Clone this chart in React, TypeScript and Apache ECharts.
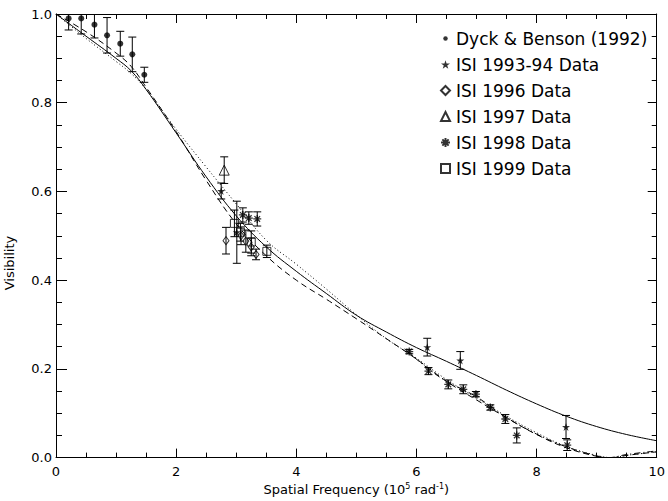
import React, { useEffect, useRef } from 'react';
import * as echarts from 'echarts';

// [spatial frequency, visibility, error]
const dyckBenson: [number, number, number][] = [
  [0.21, 0.99, 0.026], [0.42, 0.99, 0.035], [0.64, 0.976, 0.03], [0.85, 0.952, 0.04],
  [1.07, 0.933, 0.028], [1.27, 0.909, 0.039], [1.47, 0.863, 0.017],
];
const isi9394: [number, number, number][] = [
  [2.75, 0.601, 0.018], [3.01, 0.508, 0.07], [6.18, 0.249, 0.02], [6.73, 0.219, 0.02], [8.49, 0.069, 0.026],
];
const isi96: [number, number, number][] = [
  [2.83, 0.489, 0.03], [3.08, 0.5, 0.02], [3.16, 0.488, 0.025], [3.25, 0.475, 0.02], [3.33, 0.458, 0.012],
];
const isi97: [number, number, number][] = [[2.8, 0.648, 0.03]];
const isi98: [number, number, number][] = [
  [3.11, 0.547, 0.016], [3.21, 0.54, 0.014], [3.35, 0.538, 0.016], [5.88, 0.239, 0.005],
  [6.2, 0.195, 0.008], [6.53, 0.165, 0.01], [6.78, 0.154, 0.01], [6.99, 0.143, 0.006],
  [7.23, 0.113, 0.006], [7.48, 0.087, 0.01], [7.67, 0.05, 0.017], [8.51, 0.028, 0.012],
];
const isi99: [number, number, number][] = [
  [2.97, 0.528, 0.03], [3.07, 0.508, 0.02], [3.25, 0.486, 0.025], [3.51, 0.465, 0.014],
];

// model curves [x, y]
const solidModel: [number, number][] = [
  [0, 1.0], [0.5, 0.95], [1.0, 0.9], [1.25, 0.872], [1.5, 0.83], [2.0, 0.732], [2.5, 0.633],
  [3.0, 0.545], [3.5, 0.475], [4.0, 0.42], [4.5, 0.37], [5.0, 0.321], [5.5, 0.283], [6.0, 0.248],
  [6.5, 0.217], [7.0, 0.185], [7.5, 0.152], [8.0, 0.121], [8.5, 0.093], [9.0, 0.07], [9.5, 0.052],
  [10, 0.038],
];
const dashedModel: [number, number][] = [
  [0, 1.0], [0.5, 0.96], [1.0, 0.912], [1.25, 0.882], [1.5, 0.835], [2.0, 0.735], [2.5, 0.625],
  [3.0, 0.527], [3.5, 0.455], [4.0, 0.4], [4.5, 0.357], [5.0, 0.313], [5.5, 0.268], [6.0, 0.222],
  [6.5, 0.172], [7.0, 0.13], [7.5, 0.09], [8.0, 0.052], [8.5, 0.022], [9.0, 0.003], [9.25, 0.0],
  [9.5, 0.005], [10, 0.013],
];
const dottedModel: [number, number][] = [
  [0, 1.0], [0.5, 0.945], [1.0, 0.893], [1.25, 0.866], [1.5, 0.83], [2.0, 0.74], [2.5, 0.655],
  [3.0, 0.572], [3.5, 0.49], [4.0, 0.436], [4.5, 0.38], [5.0, 0.322], [5.5, 0.268], [6.0, 0.224],
  [6.5, 0.176], [7.0, 0.134], [7.5, 0.093], [8.0, 0.056], [8.5, 0.025], [9.0, 0.005], [9.25, 0.0],
  [9.5, 0.005], [10, 0.013],
];
const dashDotModel: [number, number][] = [
  [5.8, 0.245], [6.2, 0.2], [6.5, 0.172], [7.0, 0.137], [7.5, 0.09], [8.0, 0.053],
  [8.5, 0.024], [9.0, 0.004], [9.2, 0.0], [9.5, 0.007], [10, 0.015],
];

const xTickValues = [0, 2, 4, 6, 8, 10];
const yTickValues = [0, 0.2, 0.4, 0.6, 0.8, 1.0];

const FONT = 'DejaVu Sans';
const STAR = 'path://M5,0L6.18,3.62L10,3.62L6.91,5.86L8.09,9.5L5,7.26L1.91,9.5L3.09,5.86L0,3.62L3.82,3.62Z';
const AST = 'path://M5,0L5,10M0,5L10,5M1.5,1.5L8.5,8.5M8.5,1.5L1.5,8.5';
const DOT = 'path://M0,0M10,10M2.5,5A2.5,2.5,0,1,1,7.5,5A2.5,2.5,0,1,1,2.5,5Z';

const NAMES = [
  'Dyck & Benson (1992)', 'ISI 1993-94 Data', 'ISI 1996 Data', 'ISI 1997 Data', 'ISI 1998 Data', 'ISI 1999 Data',
];

export default function App() {
  const ref = useRef<HTMLDivElement>(null);
  useEffect(() => {
    if (!ref.current) return;
    const chart = echarts.init(ref.current, null, { renderer: 'svg' });
    const black = '#000';
    const hollow = { color: 'rgba(0,0,0,0)', borderColor: black, borderWidth: 1 };
    const axisCommon = {
      type: 'value' as const,
      axisLine: { show: true, onZero: false, lineStyle: { color: black, width: 1 } },
      splitLine: { show: false },
    };
    const errRender = (_p: any, api: any) => {
      const x = api.value(0), y = api.value(1), e = api.value(2);
      const a = api.coord([x, y + e]);
      const b = api.coord([x, y - e]);
      const w = 4;
      const style = { stroke: black, lineWidth: 1, fill: 'none' };
      return {
        type: 'group',
        children: [
          { type: 'line', shape: { x1: a[0], y1: a[1], x2: b[0], y2: b[1] }, style },
          { type: 'line', shape: { x1: a[0] - w, y1: a[1], x2: a[0] + w, y2: a[1] }, style },
          { type: 'line', shape: { x1: b[0] - w, y1: b[1], x2: b[0] + w, y2: b[1] }, style },
        ],
      };
    };
    const pts = (arr: [number, number, number][]) => arr.map((d) => [d[0], d[1]]);
    const lineS = (name: string, data: [number, number][], type: any) => ({
      name, type: 'line', data, showSymbol: false, smooth: 0.4,
      lineStyle: { color: black, width: 1, type }, silent: true, z: 2,
    });
    const option: any = {
      animation: false,
      backgroundColor: '#fff',
      textStyle: { fontFamily: FONT },
      grid: { left: 56, right: 6, top: 14, bottom: 37.5 },
      xAxis: [
        {
          ...axisCommon, position: 'bottom', min: 0, max: 10, interval: 2,
          axisTick: { show: true, inside: true, length: 9, lineStyle: { color: black } },
          minorTick: { show: true, splitNumber: 4, length: 5, lineStyle: { color: black } },
          axisLabel: { color: black, fontSize: 13, margin: 7, fontFamily: FONT,
            formatter: (v: number) => (xTickValues.includes(v) ? String(v) : '') },
          name: 'Spatial Frequency (10{sup|5} rad{sup|-1})',
          nameLocation: 'middle', nameGap: 22,
          nameTextStyle: { color: black, fontSize: 13, fontFamily: FONT,
            rich: { sup: { fontSize: 8, verticalAlign: 'top', padding: [0, 0, 6, 0], color: black, fontFamily: FONT } } },
        },
        {
          ...axisCommon, position: 'top', min: 0, max: 10, interval: 2,
          axisTick: { show: true, inside: true, length: 9, lineStyle: { color: black } },
          minorTick: { show: true, splitNumber: 4, length: 5, lineStyle: { color: black } },
          axisLabel: { show: false },
        },
      ],
      yAxis: [
        {
          ...axisCommon, position: 'left', min: 0, max: 1, interval: 0.2,
          axisTick: { show: true, inside: true, length: 11, lineStyle: { color: black } },
          minorTick: { show: true, splitNumber: 4, length: 6, lineStyle: { color: black } },
          axisLabel: { color: black, fontSize: 13, margin: 4, fontFamily: FONT,
            formatter: (v: number) => (yTickValues.some((t) => Math.abs(t - v) < 1e-9) ? v.toFixed(1) : '') },
        },
        {
          ...axisCommon, position: 'right', min: 0, max: 1, interval: 0.2,
          axisTick: { show: true, inside: true, length: 9, lineStyle: { color: black } },
          minorTick: { show: true, splitNumber: 4, length: 5, lineStyle: { color: black } },
          axisLabel: { show: false },
        },
      ],
      legend: {
        orient: 'vertical', left: 440, top: 30, padding: 0, itemWidth: 9, itemHeight: 9, itemGap: 9,
        selectedMode: false,
        textStyle: { color: black, fontSize: 17, fontFamily: FONT, lineHeight: 17, padding: [0, 0, 0, 1] },
        data: [
          { name: NAMES[0], icon: DOT },
          { name: NAMES[1], icon: STAR },
          { name: NAMES[2], icon: 'diamond' },
          { name: NAMES[3], icon: 'triangle' },
          { name: NAMES[4], icon: AST },
          { name: NAMES[5], icon: 'rect' },
        ],
      },
      graphic: [
        {
          type: 'text', x: 9, y: 263, rotation: Math.PI / 2,
          style: { text: 'Visibility', fontSize: 13, fill: black, align: 'center', verticalAlign: 'middle', fontFamily: FONT },
        },
      ],
      series: [
        lineS('solid model', solidModel, 'solid'),
        lineS('dashed model', dashedModel, [6, 4]),
        lineS('dotted model', dottedModel, [1, 2.5]),
        lineS('dash-dot model', dashDotModel, [6, 3, 1, 3]),
        {
          name: 'errors', type: 'custom', renderItem: errRender, clip: true, silent: true, z: 3,
          encode: { x: 0, y: 1 },
          data: [...dyckBenson, ...isi9394, ...isi96, ...isi97, ...isi98, ...isi99],
        },
        { name: NAMES[0], type: 'scatter', data: pts(dyckBenson), symbol: 'circle', symbolSize: 6,
          itemStyle: { color: black }, z: 4 },
        { name: NAMES[1], type: 'scatter', data: pts(isi9394), symbol: STAR, symbolSize: 8,
          itemStyle: { color: black }, z: 4 },
        { name: NAMES[2], type: 'scatter', data: pts(isi96), symbol: 'diamond', symbolSize: [6, 8],
          itemStyle: hollow, z: 4 },
        { name: NAMES[3], type: 'scatter', data: pts(isi97), symbol: 'triangle', symbolSize: 10,
          itemStyle: hollow, z: 4 },
        { name: NAMES[4], type: 'scatter', data: pts(isi98), symbol: AST, symbolSize: 8,
          itemStyle: { color: 'rgba(0,0,0,0)', borderColor: black, borderWidth: 1.3 }, z: 4 },
        { name: NAMES[5], type: 'scatter', data: pts(isi99), symbol: 'rect', symbolSize: 8,
          itemStyle: hollow, z: 4 },
      ],
    };
    chart.setOption(option);
    return () => chart.dispose();
  }, []);
  return (
    <div
      ref={ref}
      style={{ position: 'fixed', left: 0, top: 0, width: 668, height: 501, background: '#fff' }}
    />
  );
}
